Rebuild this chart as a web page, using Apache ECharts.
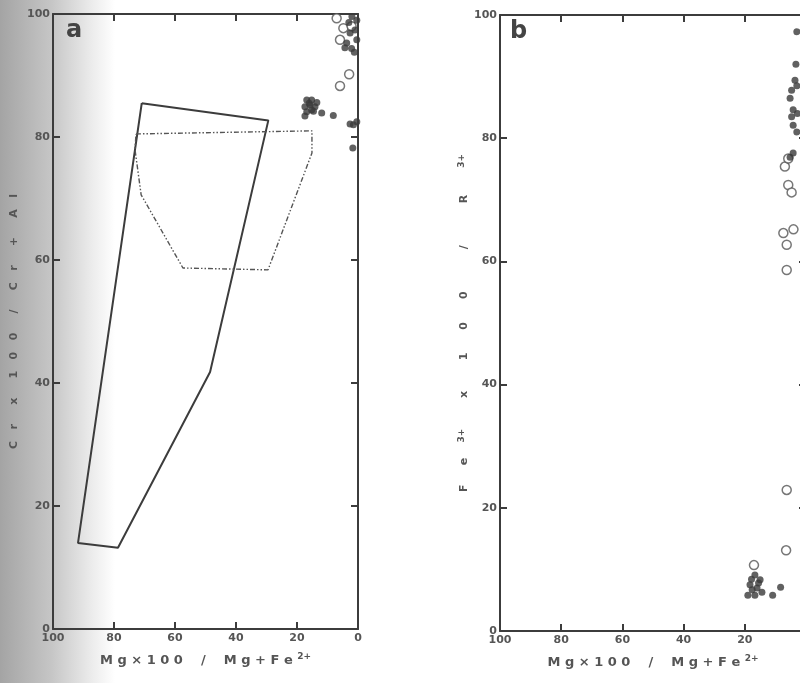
<!DOCTYPE html>
<html><head><meta charset="utf-8">
<script src="https://cdn.jsdelivr.net/npm/echarts@6/dist/echarts.min.js"></script>
<style>html,body{margin:0;padding:0;background:#fff;overflow:hidden}#c{width:800px;height:683px}</style>
</head><body><div id="c"></div>
<script>
// axis tick values (both axes, both panels)
const tickValues = [0, 20, 40, 60, 80, 100];

// Panel a: Cr#  vs Mg#
const aSolidField = [[70.9,85.5],[29.4,82.7],[48.5,41.8],[78.7,13.2],[91.8,14.0],[70.9,85.5]];
const aDottedField = [[72.8,80.5],[15.1,81.0],[15.1,77.4],[29.5,58.4],[57.4,58.7],[71.1,70.6],[73.1,77.9],[72.8,80.5]];
const aFilled = [[2.6,96.9],[2.1,94.4],[0.4,99.0],[3.7,95.3],[0.4,95.8],[1.0,97.4],[2.0,99.6],[4.3,94.5],[1.2,93.8],[3.0,98.6],
  [16.8,86.0],[15.2,86.0],[17.4,84.9],[15.7,85.2],[14.1,84.9],[16.8,84.1],[15.2,84.4],[17.4,83.4],[13.5,85.6],[16.0,85.5],[14.6,84.2],
  [11.9,83.9],[8.1,83.5],[2.6,82.1],[0.4,82.5],[1.5,82.0],[1.7,78.2]];
const aOpen = [[5.9,95.8],[4.8,97.7],[2.1,98.0],[7.0,99.3],[2.9,90.2],[5.9,88.3]];

// Panel b: Fe3+ ratio vs Mg#
const bFilled = [[3.0,97.3],[3.6,89.4],[4.7,87.8],[5.2,86.5],[4.2,84.6],[4.7,83.5],[4.2,82.1],[3.0,81.0],[4.2,77.6],[5.2,76.9],
  [3.0,88.5],[2.8,84.0],[3.3,92.0],
  [16.7,9.1],[15.0,8.3],[18.3,7.5],[16.0,7.0],[19.0,5.8],[16.7,5.8],[14.4,6.3],[17.6,6.7],[15.5,7.8],[17.8,8.4],[10.9,5.8],[8.3,7.1]];
const bOpen = [[6.9,75.4],[5.8,76.7],[5.8,72.4],[4.7,71.2],[7.4,64.6],[4.1,65.2],[6.3,62.7],[6.3,58.6],[6.3,22.9],[6.5,13.1],[17.0,10.7]];

const INK = '#3c3c3c';
const TXT = '#555';
const lblFont = {color: TXT, fontFamily: 'DejaVu Sans', fontWeight: 'bold', fontSize: 11};

function xAx(grid, pos, withLabel, name) {
  return {
    gridIndex: grid, type: 'value', min: tickValues[0], max: tickValues[tickValues.length-1], interval: 20,
    inverse: true, position: pos,
    axisLine: {show: true, onZero: false, lineStyle: {color: INK, width: 2}},
    axisTick: {show: true, inside: true, length: 7, lineStyle: {color: INK, width: 2}},
    axisLabel: Object.assign({show: withLabel, margin: 4}, lblFont),
    splitLine: {show: false},
    name: name || '', nameLocation: 'middle', nameGap: 23,
    nameTextStyle: {color: TXT, fontFamily: 'DejaVu Sans', fontWeight: 'bold', fontSize: 13,
      rich: {sup: {fontSize: 9, color: TXT, fontWeight: 'bold', fontFamily: 'DejaVu Sans', verticalAlign: 'top', padding: [0,0,8,0]}}}
  };
}
function yAx(grid, pos, withLabel, name, gap) {
  return {
    gridIndex: grid, type: 'value', min: tickValues[0], max: tickValues[tickValues.length-1], interval: 20,
    position: pos,
    axisLine: {show: true, onZero: false, lineStyle: {color: INK, width: 2}},
    axisTick: {show: true, inside: true, length: 7, lineStyle: {color: INK, width: 2}},
    axisLabel: Object.assign({show: withLabel, margin: 3}, lblFont),
    splitLine: {show: false},
    name: name || '', nameLocation: 'middle', nameGap: gap || 30, nameRotate: 90,
    nameTextStyle: {color: TXT, fontFamily: 'DejaVu Sans', fontWeight: 'bold', fontSize: 11,
      rich: {sup: {fontSize: 9, color: TXT, fontWeight: 'bold', fontFamily: 'DejaVu Sans', padding: [0,0,6,0]}}}
  };
}

const xName = 'M g × 1 0 0    /    M g + F e {sup|2+}';
const yNameA = 'C   r     x     1   0   0     /     C   r     +     A   l';
const yNameB = 'F     e    {sup|3+}        x        1      0      0           /           R       {sup|3+}';

const openStyle = {color: '#fff', borderColor: '#555', borderWidth: 1.5};
const fillStyle = {color: '#3a3a3a'};

const option = {
  animation: false,
  backgroundColor: '#fff',
  graphic: [
    {type: 'rect', left: 0, top: 0, z: -10, shape: {width: 115, height: 683},
     style: {fill: new echarts.graphic.LinearGradient(0, 0, 1, 0, [
       {offset: 0, color: '#a4a4a4'}, {offset: 0.45, color: '#c6c6c6'}, {offset: 0.8, color: '#ececec'}, {offset: 1, color: '#ffffff'}])}},
    {type: 'text', left: 66, top: 19, z: 10, style: {text: 'a', fill: '#444', font: 'bold 24px "DejaVu Sans"'}},
    {type: 'text', left: 510, top: 20, z: 10, style: {text: 'b', fill: '#444', font: 'bold 24px "DejaVu Sans"'}}
  ],
  grid: [
    {left: 53, top: 14, width: 305, height: 615, outerBoundsMode: 'none', containLabel: false},
    {left: 500, top: 15, width: 306, height: 616, outerBoundsMode: 'none', containLabel: false}
  ],
  xAxis: [xAx(0, 'bottom', true, xName), xAx(0, 'top', false), xAx(1, 'bottom', true, xName), xAx(1, 'top', false)],
  yAxis: [yAx(0, 'left', true, yNameA, 33), yAx(0, 'right', false), yAx(1, 'left', true, yNameB, 17), yAx(1, 'right', false)],
  series: [
    {type: 'line', xAxisIndex: 0, yAxisIndex: 0, data: aSolidField, showSymbol: false,
     lineStyle: {color: INK, width: 2}},
    {type: 'line', xAxisIndex: 0, yAxisIndex: 0, data: aDottedField, showSymbol: false,
     lineStyle: {color: '#555', width: 1.4, type: [5, 2, 1.5, 2, 1.5, 2]}},
    {type: 'scatter', xAxisIndex: 0, yAxisIndex: 0, data: aOpen, symbol: 'circle', symbolSize: 9, itemStyle: openStyle},
    {type: 'scatter', xAxisIndex: 0, yAxisIndex: 0, data: aFilled, symbol: 'circle', symbolSize: 7, itemStyle: fillStyle},
    {type: 'scatter', xAxisIndex: 2, yAxisIndex: 2, data: bOpen, symbol: 'circle', symbolSize: 9, itemStyle: openStyle},
    {type: 'scatter', xAxisIndex: 2, yAxisIndex: 2, data: bFilled, symbol: 'circle', symbolSize: 7, itemStyle: fillStyle}
  ]
};
const chart = echarts.init(document.getElementById('c'), null, {renderer: 'canvas'});
chart.setOption(option);
</script>
</body></html>
